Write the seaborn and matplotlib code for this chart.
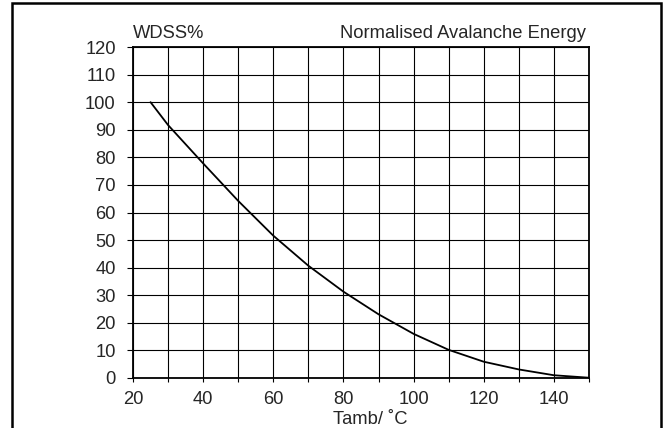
import matplotlib
matplotlib.use("Agg")
import matplotlib.pyplot as plt
import seaborn as sns
import pandas as pd
from matplotlib.patches import Rectangle
from matplotlib.ticker import MultipleLocator

# Data
temperature = [25, 30, 40, 50, 60, 70, 80, 90, 100, 110, 120, 130, 140, 150]
wdss_pct = [100, 91.7, 77.8, 64.2, 51.6, 40.7, 31.3, 23.1, 16.0, 10.2, 5.9, 3.1, 1.0, 0.1]
x_ticks = [20, 40, 60, 80, 100, 120, 140]
y_ticks = [0, 10, 20, 30, 40, 50, 60, 70, 80, 90, 100, 110, 120]
y_title = "WDSS%"
chart_title = "Normalised Avalanche Energy"
x_title = "Tamb/ \u02daC"

sns.set_style("white")
plt.rcParams['font.family'] = ['Liberation Sans', 'DejaVu Sans']

FS = 13.2
W, H = 667, 428
fig = plt.figure(figsize=(W / 100, H / 100), dpi=100)
ax = fig.add_axes([133 / W, 1 - 378 / H, (589 - 133) / W, (378 - 47) / H])

df = pd.DataFrame({"T": temperature, "E": wdss_pct})
sns.lineplot(data=df, x="T", y="E", ax=ax, color="black", linewidth=1.3, zorder=3)

ax.set_xlim(20, 150)
ax.set_ylim(0, 120)
ax.set_xticks(x_ticks)
ax.set_xticklabels([str(t) for t in x_ticks])
ax.xaxis.set_minor_locator(MultipleLocator(10))
ax.set_yticks(y_ticks)
ax.set_yticklabels([str(t) for t in y_ticks])

ax.grid(True, which="both", axis="x", color="black", linewidth=0.8)
ax.grid(True, which="major", axis="y", color="black", linewidth=0.8)
ax.set_axisbelow(True)

ax.tick_params(axis="x", which="both", direction="out", length=3, width=0.8,
               color="black", labelsize=FS, pad=6, bottom=True)
ax.tick_params(axis="x", which="minor", labelbottom=False)
ax.tick_params(axis="y", which="major", direction="out", length=4.5, width=0.8,
               color="black", labelsize=FS, pad=8, left=True)

for s in ax.spines.values():
    s.set_visible(True)
    s.set_color("black")
    s.set_linewidth(1.3)

ax.set_xlabel("")
ax.set_ylabel("")

fig.text(133 / W, 1 - 38 / H, y_title, ha="left", va="baseline", fontsize=FS)
fig.text(586 / W, 1 - 38 / H, chart_title, ha="right", va="baseline", fontsize=FS)
fig.text(370 / W, 1 - 424 / H, x_title, ha="center", va="baseline", fontsize=FS)

# outer frame
frame = Rectangle((11.5 / W, -0.05), (661 - 11.5) / W, 1.05 - 3.5 / H,
                  transform=fig.transFigure, fill=False, edgecolor="black",
                  linewidth=1.8, clip_on=False)
fig.patches.append(frame)

fig.savefig("out.png", dpi=100)
